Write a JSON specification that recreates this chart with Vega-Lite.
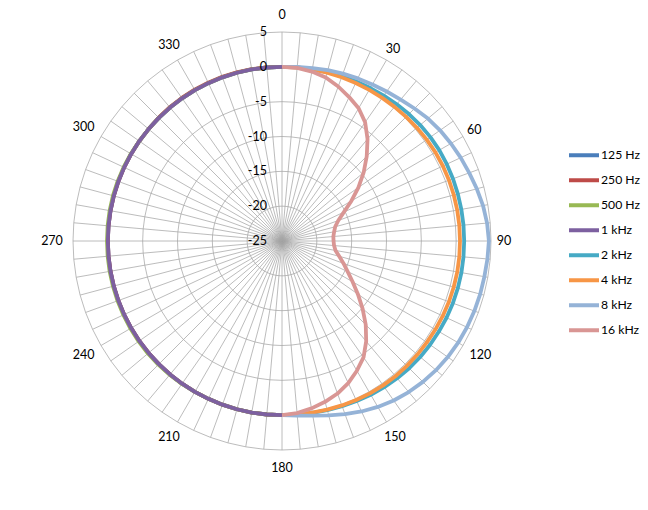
{
  "$schema": "https://vega.github.io/schema/vega-lite/v6.json",
  "width": 418,
  "height": 418,
  "autosize": {"type": "none"},
  "padding": {"left": 73, "top": 32, "right": 157, "bottom": 60},
  "background": "white",
  "config": {"view": {"stroke": null}},
  "datasets": {
    "polar": [
      {"a": 0, "2 kHz": 0, "4 kHz": 0, "8 kHz": 0, "16 kHz": 0},
      {"a": 5, "2 kHz": 0.02, "4 kHz": 0, "8 kHz": 0.08, "16 kHz": -0.05},
      {"a": 10, "2 kHz": 0.05, "4 kHz": 0, "8 kHz": 0.2, "16 kHz": -0.3},
      {"a": 15, "2 kHz": 0.1, "4 kHz": 0.01, "8 kHz": 0.38, "16 kHz": -0.7},
      {"a": 20, "2 kHz": 0.17, "4 kHz": 0.02, "8 kHz": 0.56, "16 kHz": -1.4},
      {"a": 25, "2 kHz": 0.25, "4 kHz": 0.03, "8 kHz": 0.75, "16 kHz": -2.2},
      {"a": 30, "2 kHz": 0.35, "4 kHz": 0.05, "8 kHz": 0.95, "16 kHz": -3.0},
      {"a": 35, "2 kHz": 0.48, "4 kHz": 0.08, "8 kHz": 1.2, "16 kHz": -4.2},
      {"a": 40, "2 kHz": 0.62, "4 kHz": 0.13, "8 kHz": 1.5, "16 kHz": -5.9},
      {"a": 45, "2 kHz": 0.76, "4 kHz": 0.2, "8 kHz": 1.9, "16 kHz": -7.8},
      {"a": 50, "2 kHz": 0.9, "4 kHz": 0.28, "8 kHz": 2.35, "16 kHz": -9.7},
      {"a": 55, "2 kHz": 1.0, "4 kHz": 0.36, "8 kHz": 2.7, "16 kHz": -11.6},
      {"a": 60, "2 kHz": 1.07, "4 kHz": 0.43, "8 kHz": 3.0, "16 kHz": -13.5},
      {"a": 65, "2 kHz": 1.1, "4 kHz": 0.48, "8 kHz": 3.3, "16 kHz": -15.2},
      {"a": 70, "2 kHz": 1.12, "4 kHz": 0.51, "8 kHz": 3.6, "16 kHz": -16.4},
      {"a": 75, "2 kHz": 1.13, "4 kHz": 0.53, "8 kHz": 3.95, "16 kHz": -17.1},
      {"a": 80, "2 kHz": 1.14, "4 kHz": 0.54, "8 kHz": 4.3, "16 kHz": -17.4},
      {"a": 85, "2 kHz": 1.15, "4 kHz": 0.55, "8 kHz": 4.55, "16 kHz": -17.6},
      {"a": 90, "2 kHz": 1.15, "4 kHz": 0.55, "8 kHz": 4.7, "16 kHz": -17.6},
      {"a": 95, "2 kHz": 1.15, "4 kHz": 0.55, "8 kHz": 4.6, "16 kHz": -17.5},
      {"a": 100, "2 kHz": 1.15, "4 kHz": 0.55, "8 kHz": 4.5, "16 kHz": -17.2},
      {"a": 105, "2 kHz": 1.13, "4 kHz": 0.52, "8 kHz": 4.45, "16 kHz": -16.5},
      {"a": 110, "2 kHz": 1.1, "4 kHz": 0.5, "8 kHz": 4.38, "16 kHz": -15.6},
      {"a": 115, "2 kHz": 1.06, "4 kHz": 0.46, "8 kHz": 4.3, "16 kHz": -14.6},
      {"a": 120, "2 kHz": 1.0, "4 kHz": 0.42, "8 kHz": 4.2, "16 kHz": -13.3},
      {"a": 125, "2 kHz": 0.95, "4 kHz": 0.38, "8 kHz": 4.05, "16 kHz": -11.7},
      {"a": 130, "2 kHz": 0.9, "4 kHz": 0.36, "8 kHz": 3.85, "16 kHz": -9.9},
      {"a": 135, "2 kHz": 0.82, "4 kHz": 0.35, "8 kHz": 3.6, "16 kHz": -8.0},
      {"a": 140, "2 kHz": 0.72, "4 kHz": 0.34, "8 kHz": 3.3, "16 kHz": -6.2},
      {"a": 145, "2 kHz": 0.6, "4 kHz": 0.3, "8 kHz": 2.95, "16 kHz": -4.6},
      {"a": 150, "2 kHz": 0.48, "4 kHz": 0.25, "8 kHz": 2.5, "16 kHz": -3.5},
      {"a": 155, "2 kHz": 0.35, "4 kHz": 0.19, "8 kHz": 2.0, "16 kHz": -2.5},
      {"a": 160, "2 kHz": 0.23, "4 kHz": 0.12, "8 kHz": 1.45, "16 kHz": -1.7},
      {"a": 165, "2 kHz": 0.13, "4 kHz": 0.06, "8 kHz": 0.9, "16 kHz": -1.1},
      {"a": 170, "2 kHz": 0.05, "4 kHz": 0.02, "8 kHz": 0.45, "16 kHz": -0.6},
      {"a": 175, "2 kHz": 0.01, "4 kHz": 0, "8 kHz": 0.15, "16 kHz": -0.2},
      {"a": 180, "125 Hz": 0, "250 Hz": 0, "500 Hz": 0, "1 kHz": 0, "2 kHz": 0, "4 kHz": 0, "8 kHz": 0, "16 kHz": 0},
      {"a": 185, "125 Hz": 0, "250 Hz": 0, "500 Hz": 0, "1 kHz": 0},
      {"a": 190, "125 Hz": 0, "250 Hz": 0, "500 Hz": 0, "1 kHz": 0},
      {"a": 195, "125 Hz": 0, "250 Hz": 0, "500 Hz": 0, "1 kHz": 0},
      {"a": 200, "125 Hz": 0, "250 Hz": 0, "500 Hz": 0, "1 kHz": 0},
      {"a": 205, "125 Hz": 0, "250 Hz": 0, "500 Hz": 0, "1 kHz": 0},
      {"a": 210, "125 Hz": 0, "250 Hz": 0, "500 Hz": 0, "1 kHz": 0},
      {"a": 215, "125 Hz": 0, "250 Hz": 0, "500 Hz": 0.05, "1 kHz": 0},
      {"a": 220, "125 Hz": 0, "250 Hz": 0, "500 Hz": 0.08, "1 kHz": 0},
      {"a": 225, "125 Hz": 0, "250 Hz": 0, "500 Hz": 0.1, "1 kHz": 0},
      {"a": 230, "125 Hz": 0, "250 Hz": 0, "500 Hz": 0.12, "1 kHz": 0},
      {"a": 235, "125 Hz": 0, "250 Hz": 0, "500 Hz": 0.12, "1 kHz": 0},
      {"a": 240, "125 Hz": 0, "250 Hz": 0, "500 Hz": 0.12, "1 kHz": 0},
      {"a": 245, "125 Hz": 0, "250 Hz": 0, "500 Hz": 0.12, "1 kHz": 0},
      {"a": 250, "125 Hz": 0, "250 Hz": 0, "500 Hz": 0.12, "1 kHz": 0},
      {"a": 255, "125 Hz": 0, "250 Hz": 0, "500 Hz": 0.12, "1 kHz": 0},
      {"a": 260, "125 Hz": 0, "250 Hz": 0, "500 Hz": 0.12, "1 kHz": 0},
      {"a": 265, "125 Hz": 0, "250 Hz": 0, "500 Hz": 0.12, "1 kHz": 0},
      {"a": 270, "125 Hz": 0, "250 Hz": 0, "500 Hz": 0.12, "1 kHz": 0},
      {"a": 275, "125 Hz": 0, "250 Hz": 0, "500 Hz": 0.12, "1 kHz": 0},
      {"a": 280, "125 Hz": 0, "250 Hz": 0, "500 Hz": 0.12, "1 kHz": 0},
      {"a": 285, "125 Hz": 0, "250 Hz": 0, "500 Hz": 0.12, "1 kHz": 0},
      {"a": 290, "125 Hz": 0, "250 Hz": 0, "500 Hz": 0.1, "1 kHz": 0},
      {"a": 295, "125 Hz": 0, "250 Hz": 0, "500 Hz": 0.08, "1 kHz": 0},
      {"a": 300, "125 Hz": 0, "250 Hz": 0, "500 Hz": 0.05, "1 kHz": 0},
      {"a": 305, "125 Hz": 0, "250 Hz": 0, "500 Hz": 0, "1 kHz": 0},
      {"a": 310, "125 Hz": 0, "250 Hz": 0, "500 Hz": 0, "1 kHz": 0},
      {"a": 315, "125 Hz": 0, "250 Hz": 0.04, "500 Hz": 0, "1 kHz": 0},
      {"a": 320, "125 Hz": 0, "250 Hz": 0.06, "500 Hz": 0, "1 kHz": 0},
      {"a": 325, "125 Hz": 0, "250 Hz": 0.08, "500 Hz": 0, "1 kHz": 0},
      {"a": 330, "125 Hz": 0, "250 Hz": 0.08, "500 Hz": 0, "1 kHz": 0},
      {"a": 335, "125 Hz": 0, "250 Hz": 0.08, "500 Hz": 0, "1 kHz": 0},
      {"a": 340, "125 Hz": 0, "250 Hz": 0.08, "500 Hz": 0, "1 kHz": 0},
      {"a": 345, "125 Hz": 0, "250 Hz": 0.06, "500 Hz": 0, "1 kHz": 0},
      {"a": 350, "125 Hz": 0, "250 Hz": 0.04, "500 Hz": 0, "1 kHz": 0},
      {"a": 355, "125 Hz": 0, "250 Hz": 0.02, "500 Hz": 0, "1 kHz": 0},
      {"a": 360, "125 Hz": 0, "250 Hz": 0, "500 Hz": 0, "1 kHz": 0}
    ],
    "rings": [
      {"v": -25}, {"v": -20}, {"v": -15}, {"v": -10}, {"v": -5}, {"v": 0}, {"v": 5}
    ]
  },
  "layer": [
    {
      "data": {"name": "polar"},
      "transform": [
        {"filter": "datum.a < 360"},
        {"calculate": "0", "as": "cx"},
        {"calculate": "30*sin(datum.a*PI/180)", "as": "sx"},
        {"calculate": "30*cos(datum.a*PI/180)", "as": "sy"}
      ],
      "mark": {"type": "rule", "color": "#a6a6a6", "strokeWidth": 0.75},
      "encoding": {
        "x": {"field": "cx", "type": "quantitative", "scale": {"domain": [-30, 30]}, "axis": null},
        "y": {"field": "cx", "type": "quantitative", "scale": {"domain": [-30, 30]}, "axis": null},
        "x2": {"field": "sx"},
        "y2": {"field": "sy"}
      }
    },
    {
      "data": {"name": "polar"},
      "transform": [
        {"calculate": "5", "as": "-20"},
        {"calculate": "10", "as": "-15"},
        {"calculate": "15", "as": "-10"},
        {"calculate": "20", "as": "-5"},
        {"calculate": "25", "as": "0"},
        {"calculate": "30", "as": "5"},
        {"fold": ["-20", "-15", "-10", "-5", "0", "5"], "as": ["ring", "rv"]},
        {"calculate": "datum.rv*sin(datum.a*PI/180)", "as": "gx"},
        {"calculate": "datum.rv*cos(datum.a*PI/180)", "as": "gy"}
      ],
      "mark": {"type": "line", "color": "#a6a6a6", "strokeWidth": 0.75},
      "encoding": {
        "x": {"field": "gx", "type": "quantitative", "scale": {"domain": [-30, 30]}, "axis": null},
        "y": {"field": "gy", "type": "quantitative", "scale": {"domain": [-30, 30]}, "axis": null},
        "detail": {"field": "ring", "type": "nominal"},
        "order": {"field": "a", "type": "quantitative"}
      }
    },
    {
      "data": {"name": "polar"},
      "transform": [
        {"fold": ["125 Hz", "250 Hz", "500 Hz", "1 kHz", "2 kHz", "4 kHz", "8 kHz", "16 kHz"], "as": ["f", "d"]},
        {"filter": "isValid(datum.d)"},
        {"calculate": "(datum.d+25)*sin(datum.a*PI/180)", "as": "px"},
        {"calculate": "(datum.d+25)*cos(datum.a*PI/180)", "as": "py"}
      ],
      "mark": {"type": "line", "strokeWidth": 3.8, "strokeJoin": "round", "strokeCap": "butt"},
      "encoding": {
        "x": {"field": "px", "type": "quantitative", "scale": {"domain": [-30, 30]}, "axis": null},
        "y": {"field": "py", "type": "quantitative", "scale": {"domain": [-30, 30]}, "axis": null},
        "order": {"field": "a", "type": "quantitative"},
        "color": {
          "field": "f",
          "type": "nominal",
          "scale": {
            "domain": ["125 Hz", "250 Hz", "500 Hz", "1 kHz", "2 kHz", "4 kHz", "8 kHz", "16 kHz"],
            "range": ["#4A7EBB", "#BE4B48", "#98B954", "#7D60A0", "#46AAC5", "#F79646", "#95B3D7", "#D99694"]
          },
          "legend": {
            "title": null,
            "orient": "none",
            "legendX": 494,
            "legendY": 111,
            "symbolType": "stroke",
            "symbolSize": 900,
            "symbolStrokeWidth": 4,
            "labelFont": "Lato",
            "labelFontSize": 12.2,
            "labelColor": "#000000",
            "labelOffset": 0,
            "rowPadding": 0,
            "clipHeight": 24.4,
            "padding": 0
          }
        }
      }
    },
    {
      "data": {"name": "polar"},
      "transform": [
        {"filter": "datum.a % 30 == 0 && datum.a < 360"},
        {"calculate": "toString(datum.a)", "as": "lab"},
        {"calculate": "(222 + (length(datum.lab) == 3 ? 8*abs(sin(datum.a*PI/180)) : 0) + (datum.a % 180 == 0 ? 4.5 : 0)) * 30 / 209", "as": "lr"},
        {"calculate": "datum.lr*sin(datum.a*PI/180)", "as": "lx"},
        {"calculate": "datum.lr*cos(datum.a*PI/180)", "as": "ly"}
      ],
      "mark": {"type": "text", "font": "Lato", "fontSize": 12.5, "color": "#000000", "align": "center", "baseline": "middle"},
      "encoding": {
        "x": {"field": "lx", "type": "quantitative", "scale": {"domain": [-30, 30]}, "axis": null},
        "y": {"field": "ly", "type": "quantitative", "scale": {"domain": [-30, 30]}, "axis": null},
        "text": {"field": "lab", "type": "nominal"}
      }
    },
    {
      "data": {"name": "rings"},
      "transform": [
        {"calculate": "0", "as": "cx"},
        {"calculate": "datum.v + 25", "as": "rr"},
        {"calculate": "toString(datum.v)", "as": "lab"}
      ],
      "mark": {"type": "text", "font": "Lato", "fontSize": 12.5, "color": "#000000", "align": "right", "baseline": "middle", "dx": -15},
      "encoding": {
        "x": {"field": "cx", "type": "quantitative", "scale": {"domain": [-30, 30]}, "axis": null},
        "y": {"field": "rr", "type": "quantitative", "scale": {"domain": [-30, 30]}, "axis": null},
        "text": {"field": "lab", "type": "nominal"}
      }
    }
  ]
}
